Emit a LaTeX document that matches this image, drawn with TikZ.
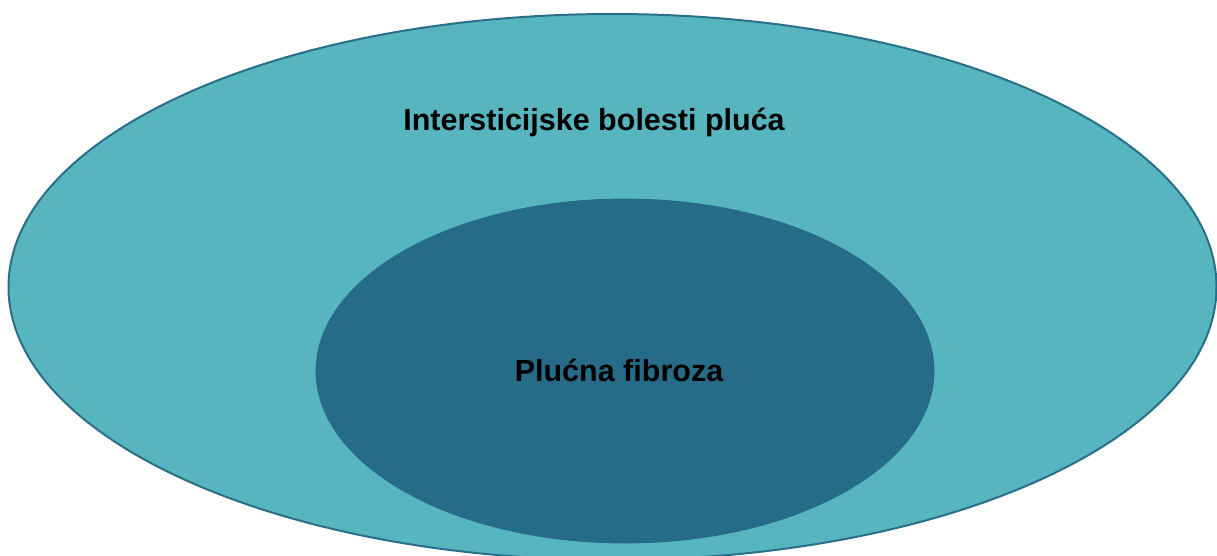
\documentclass[tikz,border=0pt]{standalone}
\usepackage{fontspec}
\setmainfont{Liberation Sans}
\usepackage{tikz}
\usetikzlibrary{shapes.geometric}
\definecolor{outerfill}{HTML}{57B5BF}
\definecolor{innerfill}{HTML}{266B87}
\definecolor{rimline}{HTML}{2A6F8A}

\begin{document}
\begin{tikzpicture}[x=1pt,y=-1pt,
  blob/.style={ellipse, inner sep=0pt, line width=2pt},
  lbl/.style={font=\bfseries\fontsize{30.5}{36}\selectfont, text=black}]
 \useasboundingbox (0,0) rectangle (1217,555);
 \clip (0,0) rectangle (1217,555);
 \node[blob, draw=rimline, fill=outerfill, minimum width=1208pt, minimum height=546pt] (ild) at (612.5,287) {};
 \node[blob, draw=innerfill, fill=innerfill, line width=0.8pt, minimum width=618pt, minimum height=344pt] (ipf) at (625,371) {};
 \node[lbl] (ildtext) at (594,122) {Intersticijske bolesti pluća};
 \node[lbl] (ipftext) at (619,370) {Plućna fibroza};
\end{tikzpicture}
\end{document}
